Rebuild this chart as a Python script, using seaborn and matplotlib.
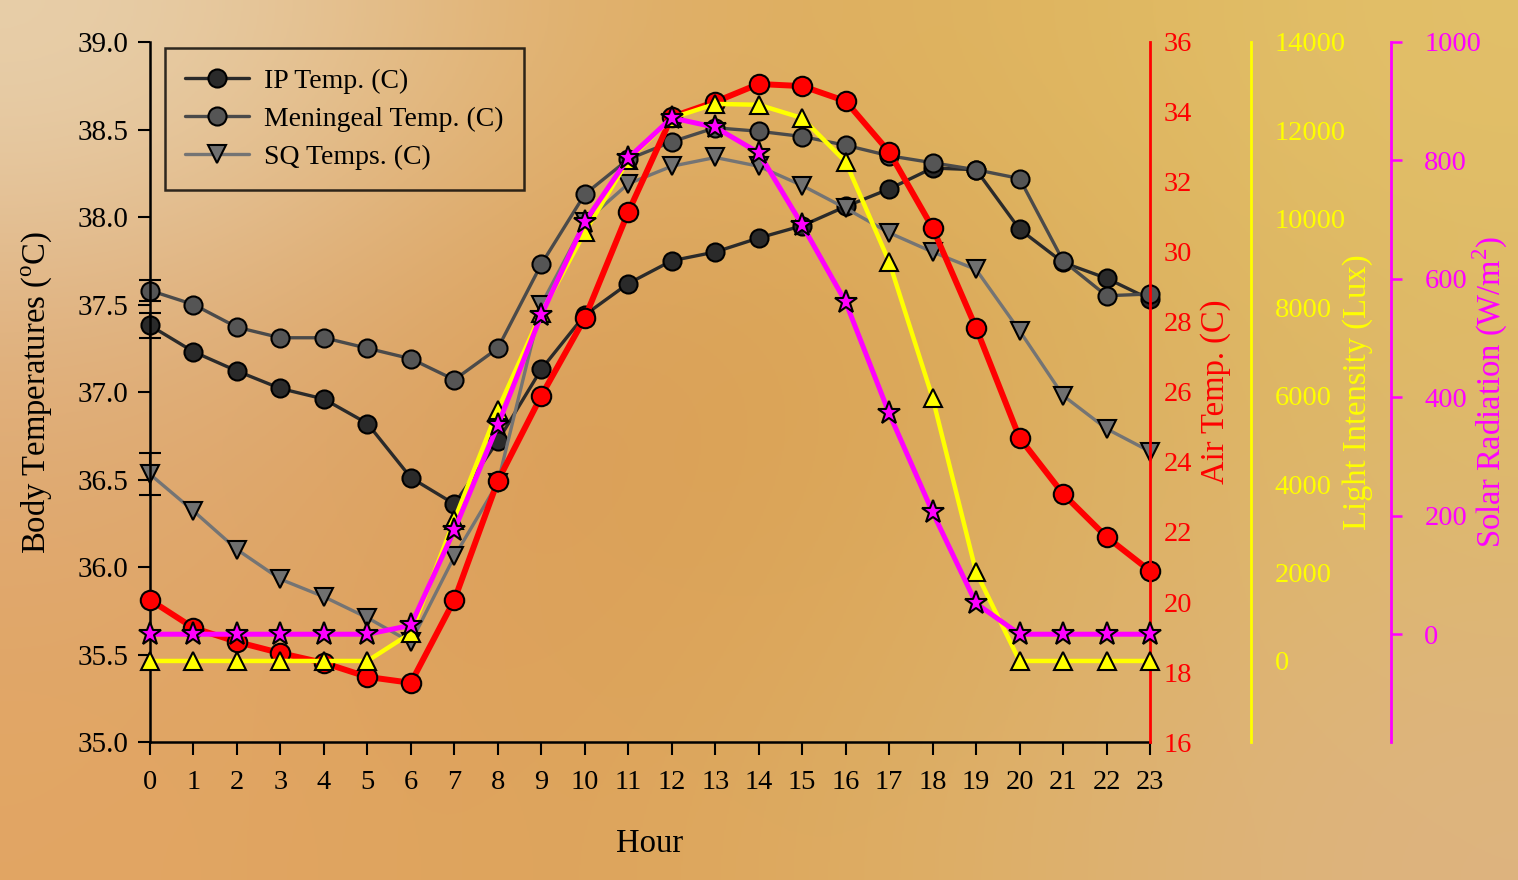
import numpy as np
import pandas as pd
import seaborn as sns
import matplotlib
matplotlib.use("Agg")
import matplotlib.pyplot as plt
from matplotlib.ticker import FormatStrFormatter, MultipleLocator

# Data
hours = list(range(24))
ip_temp = [37.38, 37.23, 37.12, 37.02, 36.96, 36.82, 36.51, 36.36, 36.72, 37.13, 37.44, 37.62,
           37.75, 37.80, 37.88, 37.95, 38.06, 38.16, 38.28, 38.27, 37.93, 37.74, 37.65, 37.53]
men_temp = [37.58, 37.50, 37.37, 37.31, 37.31, 37.25, 37.19, 37.07, 37.25, 37.73, 38.13, 38.33,
            38.43, 38.51, 38.49, 38.46, 38.41, 38.35, 38.31, 38.27, 38.22, 37.75, 37.55, 37.56]
sq_temp = [36.53, 36.32, 36.10, 35.93, 35.83, 35.71, 35.57, 36.06, 36.48, 37.50, 37.97, 38.19,
           38.29, 38.34, 38.29, 38.18, 38.05, 37.91, 37.80, 37.70, 37.35, 36.98, 36.79, 36.66]
air_temp = [20.06, 19.26, 18.86, 18.54, 18.26, 17.86, 17.69, 20.06, 23.46, 25.89, 28.11, 31.14,
            33.86, 34.29, 34.80, 34.74, 34.31, 32.86, 30.69, 27.83, 24.69, 23.09, 21.86, 20.89]
light = [0, 0, 0, 0, 0, 0, 630, 3190, 5680, 7870, 9700, 11330,
         12280, 12600, 12580, 12280, 11290, 9030, 5950, 2010, 0, 0, 0, 0]
solar = [0, 0, 0, 0, 0, 0, 15, 176, 353, 539, 696, 804,
         872, 856, 813, 691, 561, 373, 206, 52, 0, 0, 0, 0]
# error bars only visible at hour 0 (IP, meningeal, SQ)
err_h0 = [0.07, 0.06, 0.12]

df = pd.DataFrame({"hour": hours, "ip": ip_temp, "men": men_temp, "sq": sq_temp,
                   "air": air_temp, "light": light, "solar": solar})

sns.set_style("ticks")
plt.rcParams["font.family"] = ["Liberation Serif", "DejaVu Serif"]
plt.rcParams["mathtext.fontset"] = "custom"
plt.rcParams["mathtext.rm"] = "Liberation Serif"
plt.rcParams["text.color"] = "black"
plt.rcParams["axes.labelcolor"] = "black"

fig = plt.figure(figsize=(15.18, 8.8), dpi=100)

# background gradient
bg = fig.add_axes([0, 0, 1, 1], zorder=-10)
grad = np.array([
    [[232, 208, 172], [224, 172, 105], [222, 178, 92], [226, 192, 105]],
    [[224, 178, 128], [218, 156, 84], [219, 168, 88], [222, 186, 102]],
    [[224, 168, 110], [219, 157, 85], [220, 172, 92], [222, 184, 115]],
    [[226, 166, 100], [221, 162, 90], [221, 176, 100], [222, 180, 128]],
], dtype=float) / 255
bg.imshow(grad, extent=[0, 1, 0, 1], aspect="auto", interpolation="bicubic")
bg.set_axis_off()

ax = fig.add_axes([150 / 1518, 138 / 880, 1000 / 1518, 700 / 880])
ax.set_facecolor("none")

line_kw = dict(markeredgecolor="black", markeredgewidth=1.5, clip_on=False)
sns.lineplot(data=df, x="hour", y="ip", ax=ax, color="#2a2a2a", lw=2.4, marker="o",
             markersize=13, markerfacecolor="#2a2a2a", label="IP Temp. (C)", **line_kw)
sns.lineplot(data=df, x="hour", y="men", ax=ax, color="#4a4a4a", lw=2.4, marker="o",
             markersize=13, markerfacecolor="#555555", label="Meningeal Temp. (C)", **line_kw)
sns.lineplot(data=df, x="hour", y="sq", ax=ax, color="#747474", lw=2.4, marker="v",
             markersize=13, markerfacecolor="#707070", label="SQ Temps. (C)", **line_kw)
ax.errorbar([hours[0]] * 3, [ip_temp[0], men_temp[0], sq_temp[0]], yerr=err_h0, fmt="none",
            ecolor="black", elinewidth=1.5, capsize=8, capthick=1.5, clip_on=False, zorder=1)

ax.set_xlim(0, 23)
ax.set_ylim(35.0, 39.0)
ax.set_xticks(hours)
ax.yaxis.set_major_locator(MultipleLocator(0.5))
ax.yaxis.set_major_formatter(FormatStrFormatter("%.1f"))
ax.tick_params(axis="both", labelsize=21, colors="black", length=9, width=1.5, direction="out")
ax.tick_params(axis="x", pad=11, labelsize=20.5)
ax.tick_params(axis="y", pad=6.5)
for s in ["top", "right"]:
    ax.spines[s].set_visible(False)
for s in ["left", "bottom"]:
    ax.spines[s].set_linewidth(1.8)
    ax.spines[s].set_color("black")
ax.set_xlabel("Hour", fontsize=23.5)
ax.set_ylabel("Body Temperatures ($^{\\mathrm{o}}$C)", fontsize=23.5)
ax.xaxis.set_label_coords(0.5, -0.123)
ax.yaxis.set_label_coords(-0.096, 0.5)

leg = ax.legend(loc="upper left", bbox_to_anchor=(0.015, 0.991), borderaxespad=0,
                fontsize=20, frameon=True, fancybox=False, handlelength=2.3,
                handletextpad=0.55, labelspacing=0.45, borderpad=0.72)
leg.get_frame().set_facecolor("none")
leg.get_frame().set_edgecolor("black")
leg.get_frame().set_linewidth(1.8)

# Air temperature axis
ax2 = ax.twinx()
sns.lineplot(data=df, x="hour", y="air", ax=ax2, color="#ff0000", lw=4.3, marker="o",
             markersize=14, markerfacecolor="#ff0000", legend=False, **line_kw)
ax2.set_ylim(16, 36)
ax2.set_yticks(range(16, 37, 2))
ax2.tick_params(axis="y", labelsize=20.5, colors="#ff0000", length=0, pad=10)
ax2.set_ylabel("Air Temp. (C)", fontsize=23.5, color="#ff0000", rotation=90)
ax2.yaxis.set_label_coords(1.050, 0.5)

# Light intensity axis
ax3 = ax.twinx()
ax3.spines["right"].set_position(("axes", 1.101))
sns.lineplot(data=df, x="hour", y="light", ax=ax3, color="#ffff00", lw=3.2, marker="^",
             markersize=13, markerfacecolor="#ffff00", legend=False, **line_kw)
ax3.set_ylim(-1833, 14000)
ax3.set_yticks(range(0, 14001, 2000))
ax3.tick_params(axis="y", labelsize=20.5, colors="#ffff00", length=0, pad=17)
ax3.set_ylabel("Light Intensity (Lux)", fontsize=23.5, color="#ffff00", rotation=90)
ax3.yaxis.set_label_coords(1.192, 0.5)

# Solar radiation axis
ax4 = ax.twinx()
ax4.spines["right"].set_position(("axes", 1.241))
sns.lineplot(data=df, x="hour", y="solar", ax=ax4, color="#ff00ff", lw=3.6, marker="*",
             markersize=17, markerfacecolor="#ff00ff", legend=False, **line_kw)
ax4.set_ylim(-182, 1000)
ax4.set_yticks(range(0, 1001, 200))
ax4.tick_params(axis="y", labelsize=20.5, colors="#ff00ff", length=8, width=1.8, pad=16,
                direction="out")
ax4.set_ylabel("Solar Radiation (W/m$^{2}$)", fontsize=23.5, color="#ff00ff", rotation=90)
ax4.yaxis.set_label_coords(1.321, 0.5)

for a, c in [(ax2, "#ff0000"), (ax3, "#ffff00"), (ax4, "#ff00ff")]:
    a.set_facecolor("none")
    a.set_xlabel("")
    for s in ["top", "left", "bottom"]:
        a.spines[s].set_visible(False)
    a.spines["right"].set_color(c)
    a.spines["right"].set_linewidth(2)
    a.set_xlim(0, 23)

fig.savefig("out.png", dpi=100)
